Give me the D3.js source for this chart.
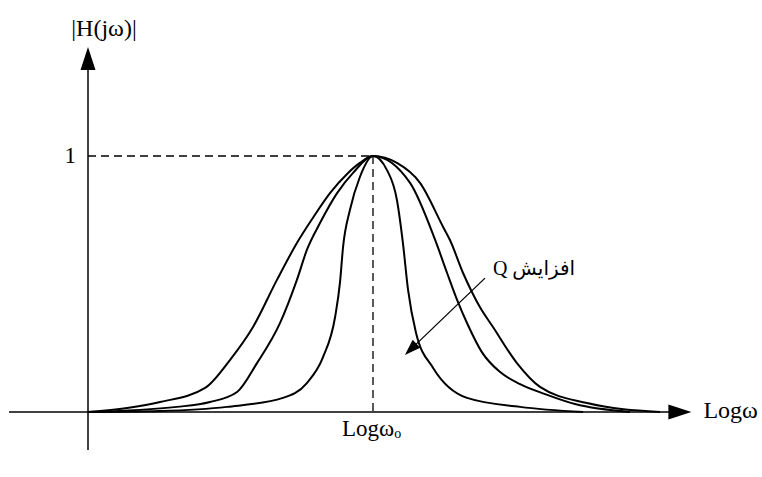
<!DOCTYPE html>
<html>
<head>
<meta charset="utf-8">
<script src="https://cdn.jsdelivr.net/npm/d3@7"></script>
<style>
  html, body { margin: 0; padding: 0; background: #fff; }
  svg { display: block; }
  .lbl { font-family: "Liberation Serif", "Times New Roman", serif; fill: #000; }
  .fa { font-family: "Liberation Serif", "DejaVu Sans", sans-serif; fill: #000; }
</style>
</head>
<body>
<svg id="chart" width="762" height="477"></svg>
<script>
// Band-pass magnitude response |H(jω)| against log ω, for three values of Q.
// x: log ω in units where the centre frequency ω0 sits at 1; y: normalised magnitude.
const lowQx  = [0, 0.137, 0.253, 0.411, 0.498, 0.579, 0.663, 0.733, 0.789, 0.849, 0.909, 0.954, 1, 1.084, 1.165, 1.246, 1.270, 1.316, 1.347, 1.375, 1.421, 1.505, 1.586, 1.751, 2.007];
const lowQy  = [0, 0.016, 0.039, 0.094, 0.203, 0.332, 0.516, 0.660, 0.758, 0.855, 0.930, 0.973, 1, 0.973, 0.895, 0.723, 0.672, 0.543, 0.469, 0.410, 0.332, 0.191, 0.098, 0.035, 0];
const midQx  = [0, 0.312, 0.428, 0.523, 0.593, 0.674, 0.733, 0.768, 0.814, 0.874, 0.930, 1, 1.130, 1.218, 1.260, 1.295, 1.333, 1.382, 1.446, 1.516, 1.604, 1.709, 1.902];
const midQy  = [0, 0.020, 0.039, 0.078, 0.191, 0.348, 0.516, 0.633, 0.738, 0.855, 0.934, 1, 0.895, 0.672, 0.543, 0.438, 0.340, 0.234, 0.156, 0.109, 0.070, 0.031, 0];
const highQx = [0, 0.253, 0.488, 0.684, 0.768, 0.825, 0.867, 0.884, 0.895, 0.919, 0.954, 1, 1.049, 1.084, 1.105, 1.123, 1.151, 1.211, 1.330, 1.516, 1.737];
const highQy = [0, 0.004, 0.020, 0.055, 0.113, 0.215, 0.371, 0.504, 0.645, 0.789, 0.918, 1, 0.945, 0.828, 0.660, 0.477, 0.309, 0.172, 0.055, 0.020, 0];

// Axis extents (data units) and the marked points
const xAxisExtent = [-0.277, 2.04];
const yAxisExtent = [-0.148, 1.34];
const centreFreq = 1;
const peakGain = 1;

// Labels
const yTitle = "|H(jω)|";
const xTitle = "Logω";
const peakLabel = "1";
const centreLabel = "Logω";
const centreSub = "o";
const qLabel = "افزایش Q";

const svg = d3.select("#chart");
const x = d3.scaleLinear().domain([0, 1]).range([88, 373]);
const y = d3.scaleLinear().domain([0, 1]).range([412, 156]);

// Arrowhead helper: filled triangle with tip at (tx, ty) pointing along angle a
function arrowHead(tx, ty, a, len, half) {
  const bx = tx - len * Math.cos(a), by = ty - len * Math.sin(a);
  const nx = -Math.sin(a) * half, ny = Math.cos(a) * half;
  svg.append("path")
    .attr("d", `M${tx},${ty}L${bx + nx},${by + ny}L${bx - nx},${by - ny}Z`)
    .attr("fill", "#000");
}

// Axes
const ax = svg.append("g").attr("stroke", "#000").attr("stroke-width", 1.5);
ax.append("line")
  .attr("x1", x(xAxisExtent[0])).attr("x2", x(xAxisExtent[1]))
  .attr("y1", y(0)).attr("y2", y(0));
ax.append("line")
  .attr("x1", x(0)).attr("x2", x(0))
  .attr("y1", y(yAxisExtent[0])).attr("y2", y(yAxisExtent[1]));
arrowHead(x(xAxisExtent[1]) + 22, y(0), 0, 23, 7.5);
arrowHead(x(0), y(yAxisExtent[1]) - 22, -Math.PI / 2, 23, 7.5);

// Dashed guides to the peak
const guides = svg.append("g").attr("stroke", "#000").attr("stroke-width", 1.3)
  .attr("stroke-dasharray", "8,5");
guides.append("line")
  .attr("x1", x(0)).attr("x2", x(centreFreq))
  .attr("y1", y(peakGain)).attr("y2", y(peakGain));
guides.append("line")
  .attr("x1", x(centreFreq)).attr("x2", x(centreFreq))
  .attr("y1", y(peakGain)).attr("y2", y(0));

// Response curves
const line = d3.line()
  .x(d => x(d[0])).y(d => y(d[1]))
  .curve(d3.curveMonotoneX);
const curves = [
  d3.zip(lowQx, lowQy),
  d3.zip(midQx, midQy),
  d3.zip(highQx, highQy)
];
svg.append("g").selectAll("path").data(curves).join("path")
  .attr("d", line)
  .attr("fill", "none")
  .attr("stroke", "#000")
  .attr("stroke-width", 2)
  .attr("stroke-linejoin", "round");

// "Increasing Q" annotation arrow
const a0 = [x(1.393), y(0.523)], a1 = [x(1.112), y(0.223)];
const ang = Math.atan2(a1[1] - a0[1], a1[0] - a0[0]);
svg.append("line")
  .attr("x1", a0[0]).attr("y1", a0[1])
  .attr("x2", a1[0] - 12 * Math.cos(ang)).attr("y2", a1[1] - 12 * Math.sin(ang))
  .attr("stroke", "#000").attr("stroke-width", 1.3);
arrowHead(a1[0], a1[1], ang, 16, 5.5);

// Text
svg.append("text").attr("class", "lbl")
  .attr("x", x(0) + 16).attr("y", 36).attr("text-anchor", "middle")
  .attr("font-size", 24).text(yTitle);
svg.append("text").attr("class", "lbl")
  .attr("x", x(0) - 12).attr("y", y(peakGain) + 7).attr("text-anchor", "end")
  .attr("font-size", 23).text(peakLabel);
svg.append("text").attr("class", "lbl")
  .attr("x", x(xAxisExtent[1]) + 34).attr("y", y(0) + 6)
  .attr("font-size", 24).text(xTitle);
const ct = svg.append("text").attr("class", "lbl")
  .attr("x", 342).attr("y", y(0) + 24)
  .attr("font-size", 23);
ct.append("tspan").text(centreLabel);
ct.append("tspan").attr("font-size", 14).attr("dy", 2).text(centreSub);
svg.append("text").attr("class", "fa")
  .attr("x", 534).attr("y", 275).attr("text-anchor", "middle")
  .attr("direction", "rtl").attr("font-size", 20).text(qLabel);
</script>
</body>
</html>
